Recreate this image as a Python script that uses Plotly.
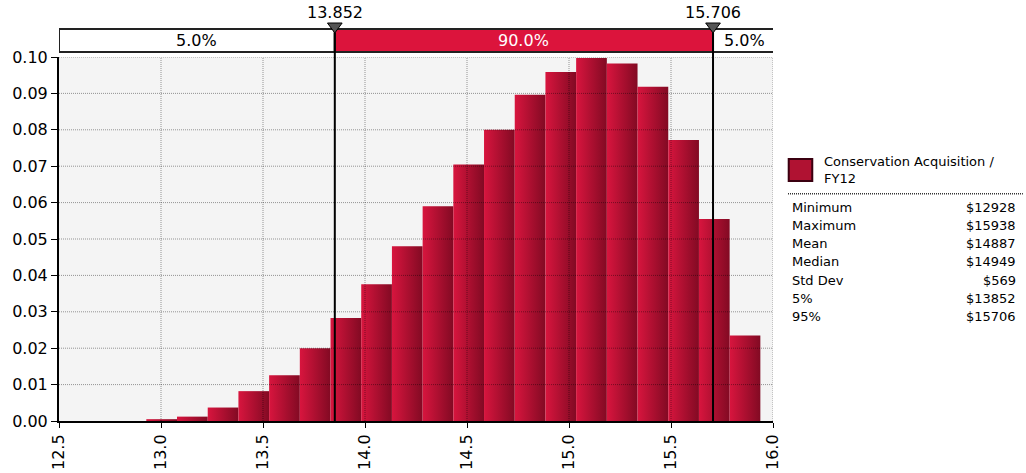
import plotly.graph_objects as go

# histogram of simulated values (thousands of $), 20 equal bins from min to max
minimum = 12.928
maximum = 15.938
bin_count = 20
probabilities = [0.0005, 0.0012, 0.0037, 0.0082, 0.0126, 0.0200, 0.0283, 0.0376, 0.0480, 0.0590,
                 0.0705, 0.0800, 0.0896, 0.0959, 0.0997, 0.0982, 0.0918, 0.0772, 0.0555, 0.0235]

p5 = 13.852
p95 = 15.706
band_labels = ["5.0%", "90.0%", "5.0%"]

series_name = "Conservation Acquisition /<br>FY12"
stat_names = ["Minimum", "Maximum", "Mean", "Median", "Std Dev", "5%", "95%"]
stat_values = ["$12928", "$15938", "$14887", "$14949", "$569", "$13852", "$15706"]

x_ticks = [12.5, 13.0, 13.5, 14.0, 14.5, 15.0, 15.5, 16.0]
y_ticks = [0.00, 0.01, 0.02, 0.03, 0.04, 0.05, 0.06, 0.07, 0.08, 0.09, 0.10]

FONT = "DejaVu Sans"
RED = "#DC143C"
grad = [[0, "#D8153E"], [1, "#820A23"]]

fig = go.Figure()

width = (maximum - minimum) / bin_count
for i, p in enumerate(probabilities):
    x0 = minimum + i * width
    x1 = x0 + width
    fig.add_trace(go.Scatter(
        x=[x0, x0, x1, x1, x0], y=[0, p, p, 0, 0],
        mode="lines", fill="toself", line=dict(width=0),
        fillgradient=dict(type="horizontal", colorscale=grad, start=x0, stop=x1),
        showlegend=False, hoverinfo="skip",
    ))

# dotted gridlines drawn over the bars
grid = dict(color="rgba(0,0,0,0.4)", width=1, dash="1px,1px")
shapes = []
for t in y_ticks[1:]:
    shapes.append(dict(type="line", xref="paper", yref="y", x0=0, x1=1, y0=t, y1=t,
                       line=grid, layer="above"))
for t in x_ticks[1:]:
    shapes.append(dict(type="line", xref="x", yref="paper", x0=t, x1=t, y0=0, y1=1,
                       line=grid, layer="above"))

# percentile band on top
band_y0, band_y1 = 1.0137, 1.077
edges = [x_ticks[0], p5, p95, x_ticks[-1] + 0.01]
fills = ["white", RED, "white"]
for k in range(3):
    shapes.append(dict(type="rect", xref="x", yref="paper", x0=edges[k], x1=edges[k + 1],
                       y0=band_y0, y1=band_y1, fillcolor=fills[k],
                       line=dict(color="#222222", width=2), layer="above"))

annotations = []
for k in range(3):
    annotations.append(dict(x=(edges[k] + edges[k + 1]) / 2, y=(band_y0 + band_y1) / 2,
                            xref="x", yref="paper", text=band_labels[k], showarrow=False,
                            yanchor="middle",
                            font=dict(family=FONT, size=16, color="white" if k == 1 else "black")))

# percentile markers: line, triangle, value label
for v in [p5, p95]:
    shapes.append(dict(type="line", xref="x", yref="paper", x0=v, x1=v, y0=0, y1=1.066,
                       line=dict(color="black", width=2), layer="above"))
    shapes.append(dict(type="path", xref="x", yref="paper",
                       path=f"M {v - 0.036},1.0934 L {v + 0.036},1.0934 L {v},1.066 Z",
                       fillcolor="#555555", line=dict(color="black", width=1), layer="above"))
    annotations.append(dict(x=v, y=1.1228, xref="x", yref="paper", text=f"{v:.3f}",
                            showarrow=False, yanchor="middle",
                            font=dict(family=FONT, size=16, color="black")))

# legend swatch and stats table
shapes.append(dict(type="rect", xref="paper", yref="paper", x0=1.022, x1=1.055, y0=0.659, y1=0.72,
                   fillcolor="#B01232", line=dict(color="#3a0010", width=2)))
annotations.append(dict(x=1.068, y=0.712, xref="paper", yref="paper", text=series_name,
                        showarrow=False, xanchor="left", yanchor="middle", align="left",
                        font=dict(family=FONT, size=13, color="black"), yshift=-8))
shapes.append(dict(type="line", xref="paper", yref="paper", x0=1.021, x1=1.35, y0=0.624, y1=0.624,
                   line=dict(color="#333333", width=1.5, dash="1px,1px")))
row_h = 18.3 / 364
for i, (n, v) in enumerate(zip(stat_names, stat_values)):
    yy = (421 - 207) / 364 - i * row_h
    annotations.append(dict(x=1.0238, y=yy, xref="paper", yref="paper", text=n, showarrow=False,
                            xanchor="left", yanchor="middle",
                            font=dict(family=FONT, size=13, color="black")))
    annotations.append(dict(x=1.343, y=yy, xref="paper", yref="paper", text=v, showarrow=False,
                            xanchor="right", yanchor="middle",
                            font=dict(family=FONT, size=13, color="black")))

fig.update_layout(
    width=1026, height=473,
    margin=dict(l=59, r=253, t=57, b=52),
    paper_bgcolor="white", plot_bgcolor="#F4F4F4",
    font=dict(family=FONT, size=16, color="black"),
    shapes=shapes, annotations=annotations,
    xaxis=dict(range=[12.5, 16.0], tickvals=x_ticks, ticktext=[f"{t:.1f}" for t in x_ticks],
               tickangle=-90, showgrid=False, zeroline=False, showline=True, linecolor="black",
               linewidth=2, ticks="outside", ticklen=5, tickcolor="black", automargin=False,
               tickfont=dict(family=FONT, size=16)),
    yaxis=dict(range=[0, 0.1], tickvals=y_ticks, ticktext=[f"{t:.2f}" for t in y_ticks],
               showgrid=False, zeroline=False, showline=True, linecolor="black", linewidth=2,
               ticks="outside", ticklen=6, tickcolor="black", automargin=False,
               tickfont=dict(family=FONT, size=16)),
)

# drop the browser's default body margin so the figure sits at the page corner
fig.write_html("out.html", post_script="document.body.style.margin='0';",
               config={"displayModeBar": False})
